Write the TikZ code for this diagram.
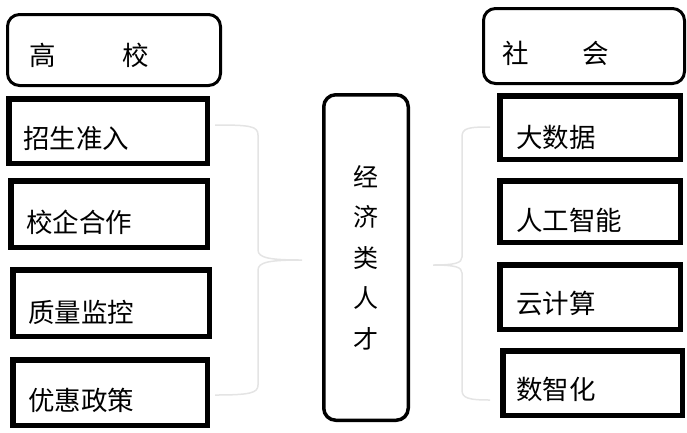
\documentclass[tikz,border=0pt]{standalone}
\usepackage{fontspec}
\newfontfamily\cjk{Noto Sans CJK SC}
\usetikzlibrary{positioning}
\definecolor{bracegray}{RGB}{228,228,228}

\begin{document}
\begin{tikzpicture}[
  x=1pt, y=-1pt,
  headbox/.style={draw, line width=3pt, rounded corners=12pt},
  itembox/.style={draw, line width=5.5pt},
  midbox/.style={draw, line width=3.5pt, rounded corners=12pt, align=center,
    font=\cjk\fontsize{25}{40.5}\selectfont},
  txt/.style={inner sep=0pt, font=\cjk\fontsize{26.5}{30}\selectfont},
  brace/.style={draw=bracegray, line width=1.5pt}]
\useasboundingbox (0,0) rectangle (687,432);

% left column
\node[headbox, minimum width=213pt, minimum height=71pt] (gx) at (114,50) {};
\node[txt, right=23pt of gx.west, yshift=-5pt] (gxt) {高\hspace{66.5pt}校};
\node[itembox, minimum width=198.5pt, minimum height=64.5pt] (zs) at (108,131) {};
\node[txt, right=17pt of zs.west, yshift=-7pt] (zst) {招生准入};
\node[itembox, minimum width=196.5pt, minimum height=66.5pt] (xq) at (109,214) {};
\node[txt, right=18pt of xq.west, yshift=-8pt] (xqt) {校企合作};
\node[itembox, minimum width=196.5pt, minimum height=66.5pt] (zl) at (111,303) {};
\node[txt, right=18pt of zl.west, yshift=-9pt] (zlt) {质量监控};
\node[itembox, minimum width=194.5pt, minimum height=65.5pt] (yh) at (110,392.5) {};
\node[txt, right=18pt of yh.west, yshift=-7.5pt] (yht) {优惠政策};

% middle
\node[midbox, minimum width=84.5pt, minimum height=325.5pt] (rc) at (366,257.5)
  {经\\济\\类\\人\\才};

% right column
\node[headbox, minimum width=201pt, minimum height=75pt] (sh) at (584,46) {};
\node[txt, right=20pt of sh.west, yshift=-7pt] (sht) {社\hspace{53.5pt}会};
\node[itembox, minimum width=180.5pt, minimum height=63.5pt] (dsj) at (590,127.5) {};
\node[txt, right=19pt of dsj.west, yshift=-9.5pt] (dsjt) {大数据};
\node[itembox, minimum width=180.5pt, minimum height=61.5pt] (rg) at (590,211.5) {};
\node[txt, right=19pt of rg.west, yshift=-9pt] (rgt) {人工智能};
\node[itembox, minimum width=180.5pt, minimum height=64.5pt] (yjs) at (590,297) {};
\node[txt, right=19pt of yjs.west, yshift=-6.5pt] (yjst) {云计算};
\node[itembox, minimum width=179.5pt, minimum height=64.5pt] (szh) at (592.5,383) {};
\node[txt, right=16pt of szh.west, yshift=-6.5pt] (szht) {数智化};

% braces
\coordinate (lbT) at (215,125);
\coordinate (lbM) at (302,260);
\coordinate (lbB) at (215,395);
\coordinate (rbT) at (490,127);
\coordinate (rbM) at (433,265);
\coordinate (rbB) at (490,400);
\draw[brace] (lbT) .. controls (250,125) and (258,126) .. (258,135) -- (258,250)
  .. controls (258,258) and (270,260) .. (lbM)
  .. controls (270,260) and (258,262) .. (258,270) -- (258,385)
  .. controls (258,393) and (250,395) .. (lbB);
\draw[brace] (rbT) .. controls (468,127) and (462,128) .. (462,137) -- (462,257)
  .. controls (462,263) and (455,265) .. (rbM)
  .. controls (455,265) and (462,267) .. (462,273) -- (462,390)
  .. controls (462,398) and (468,400) .. (rbB);
\end{tikzpicture}
\end{document}
